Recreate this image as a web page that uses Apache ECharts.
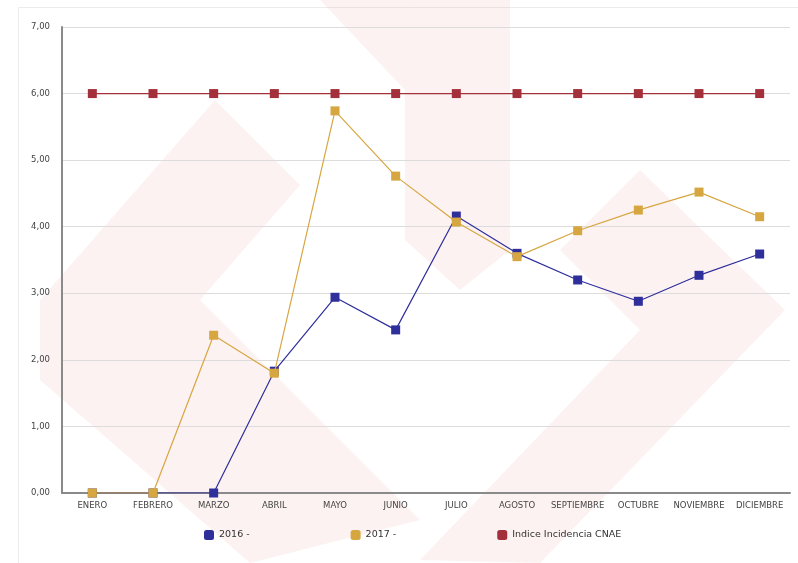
<!DOCTYPE html>
<html><head><meta charset="utf-8">
<script src="https://cdn.jsdelivr.net/npm/echarts@6/dist/echarts.min.js"></script>
<style>html,body{margin:0;padding:0;background:#fff}#c{width:798px;height:563px}</style>
</head><body><div id="c"></div>
<script>
const months = ['ENERO','FEBRERO','MARZO','ABRIL','MAYO','JUNIO','JULIO','AGOSTO','SEPTIEMBRE','OCTUBRE','NOVIEMBRE','DICIEMBRE'];
const yTicks = [0,1,2,3,4,5,6,7];
const s2016 = [0,0,0,1.83,2.94,2.45,4.16,3.60,3.20,2.88,3.27,3.59];
const s2017 = [0,0,2.37,1.80,5.74,4.76,4.07,3.55,3.94,4.25,4.52,4.15];
const cnae = [6,6,6,6,6,6,6,6,6,6,6,6];
const names = ['2016 -','2017 -','Indice Incidencia CNAE'];
const colors = ['#2f2f9c','#d6a640','#a3303a'];

const chart = echarts.init(document.getElementById('c'));
const mk = (name, data, color, z) => ({
  name, type:'line', data, symbol:'rect', symbolSize:9, z,
  itemStyle:{color}, lineStyle:{color, width:1.2}, emphasis:{disabled:true}
});
chart.setOption({
  animation:false,
  textStyle:{fontFamily:'DejaVu Sans'},
  graphic:[
    {type:'rect', silent:true, z:-11, shape:{x:18.5, y:7.5, width:790, height:560}, style:{fill:null, stroke:'#ececec', lineWidth:1}},
    {type:'polygon', silent:true, z:-10, shape:{points:[[40,300],[215,100],[300,185],[200,300],[420,520],[250,563],[40,380]]}, style:{fill:'rgba(240,150,150,0.12)'}},
    {type:'polygon', silent:true, z:-10, shape:{points:[[320,0],[510,0],[510,250],[460,290],[405,240],[405,90]]}, style:{fill:'rgba(240,150,150,0.12)'}},
    {type:'polygon', silent:true, z:-10, shape:{points:[[420,560],[640,330],[560,250],[640,170],[785,310],[540,563]]}, style:{fill:'rgba(240,150,150,0.12)'}}
  ],
  grid:{left:62, right:8, top:27, bottom:70},
  legend:{bottom:18, left:199, itemGap:101, itemWidth:10, itemHeight:10, icon:'roundRect',
    textStyle:{fontSize:9.5, color:'#333'}, data:names},
  xAxis:{type:'category', data:months, boundaryGap:true,
    axisLine:{lineStyle:{color:'#8a8a8a', width:2}}, axisTick:{show:false},
    axisLabel:{fontSize:8.5, color:'#444', interval:0, margin:8}},
  yAxis:{type:'value', min:0, max:7, interval:1,
    axisLine:{show:true, lineStyle:{color:'#8a8a8a', width:2}}, axisTick:{show:false},
    splitLine:{lineStyle:{color:'#dcdcdc'}},
    axisLabel:{fontSize:8.5, color:'#444', margin:12, formatter:v=>yTicks.includes(v)?v.toFixed(2).replace('.',','):''}},
  series:[mk(names[0], s2016, colors[0], 2), mk(names[1], s2017, colors[1], 3), mk(names[2], cnae, colors[2], 4)]
});
</script></body></html>
